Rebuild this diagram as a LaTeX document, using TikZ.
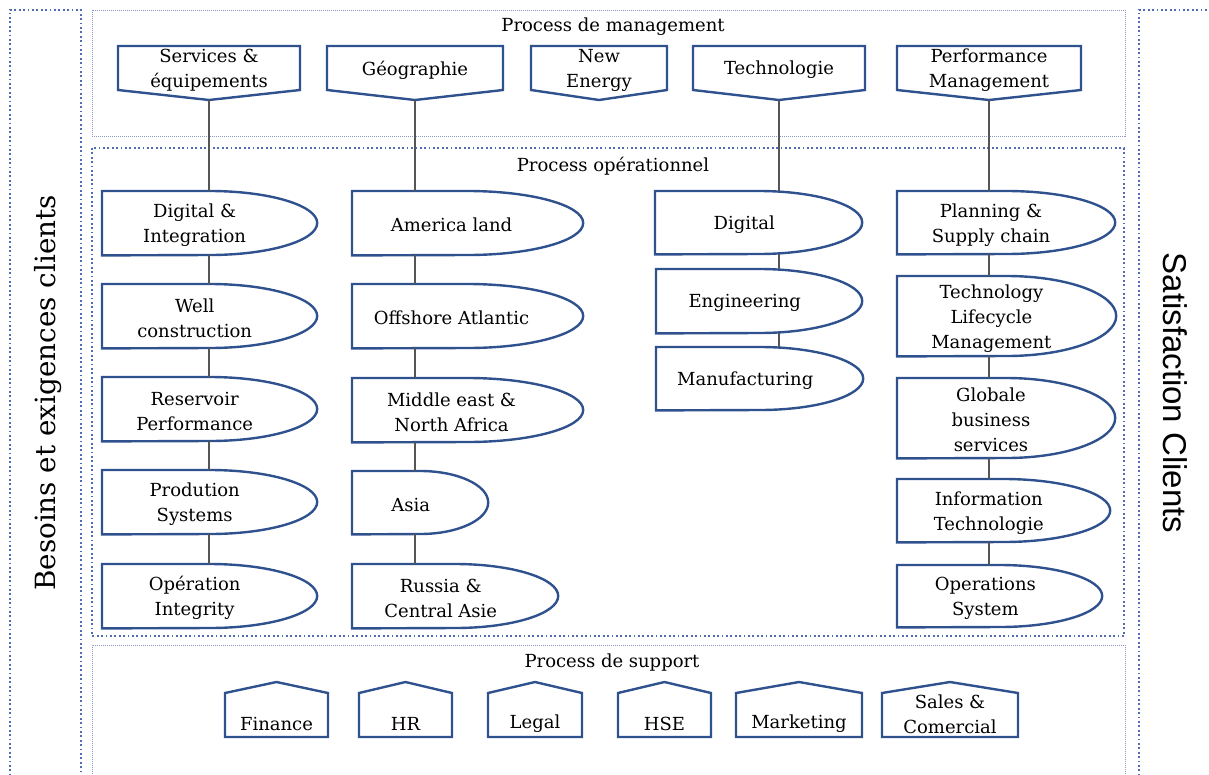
\documentclass[tikz,border=0pt]{standalone}
\usepackage{fontspec}
\setmainfont{DejaVu Serif}
\newfontfamily\labelsans{Liberation Sans}

\definecolor{nodeblue}{RGB}{47,82,143}
\definecolor{dotblue}{RGB}{80,108,182}
\definecolor{thinblue}{RGB}{140,152,190}
\definecolor{linkgray}{RGB}{85,85,85}

\tikzset{
  boxtext/.style={font=\fontsize{18}{25}\selectfont, align=center, inner sep=0pt},
  shapeline/.style={draw=nodeblue, line width=2.4pt, line join=miter},
  link/.style={draw=linkgray, line width=1.2pt},
  bigdots/.style={draw=dotblue, line width=2pt, dash pattern=on 1.8pt off 2.6pt},
  finedots/.style={draw=thinblue, line width=0.9pt, dash pattern=on 1pt off 1pt},
  titletext/.style={font=\fontsize{18}{25}\selectfont, inner sep=0pt},
  stepbox/.style={rectangle, inner sep=0pt, anchor=north west},
}

% operational step: flat left side, half-ellipse right side
\newcommand\opnode[6]{% name, left, top, width, height, label
  \node[stepbox, minimum width=#4pt, minimum height=#5pt,
        label={[boxtext, xshift={-0.07*#4}, yshift=-2]center:{#6}}] (#1) at (#2,-#3) {};
  \draw[shapeline] (#1.north west) -- (#1.north)
     arc[start angle=90, end angle=-90, x radius={#4/2}, y radius={#5/2}]
     -- (#1.south west) -- cycle;
}
% management process: pentagon pointing down
\newcommand\mgnode[4]{% name, left, right, label
  \node[boxtext] (#1) at ({(#2+#3)/2},-70) {#4};
  \draw[shapeline] (#2,-46) -- (#3,-46) -- (#3,-90) -- ({(#2+#3)/2},-100) -- (#2,-90) -- cycle;
  \coordinate (#1-tip) at ({(#2+#3)/2},-100);
}
% support process: pentagon pointing up
\newcommand\supnode[5]{% name, left, right, text y, label
  \node[boxtext] (#1) at ({(#2+#3)/2},-#4) {#5};
  \draw[shapeline] (#2,-737) -- (#2,-693) -- ({(#2+#3)/2},-682) -- (#3,-693) -- (#3,-737) -- cycle;
}

\begin{document}
\begin{tikzpicture}[x=1pt,y=1pt]
\useasboundingbox (0,0) rectangle (1209,-774);
\clip (0,0) rectangle (1209,-774);

% side bands
\draw[bigdots] (10,-780) -- (10,-10) -- (81,-10) -- (81,-780);
\draw[bigdots] (1139,-780) -- (1139,-10) -- (1215,-10);
\node[rotate=90, font=\fontsize{27.8}{34}\selectfont, inner sep=0pt] (needs) at (48,-393) {Besoins et exigences clients};
\node[rotate=-90, font=\labelsans\fontsize{33}{40}\selectfont, inner sep=0pt] (satisfaction) at (1175,-393) {Satisfaction Clients};

% process areas
\draw[finedots] (92,-10) rectangle (1125,-136);
\draw[bigdots] (92,-148) rectangle (1124,-636);
\draw[finedots] (92,-780) -- (92,-645) -- (1125,-645) -- (1125,-780);
\node[titletext] (mgtitle) at (613,-27) {Process de management};
\node[titletext] (optitle) at (613,-166) {Process opérationnel};
\node[titletext] (suptitle) at (612,-663) {Process de support};

% management processes
\mgnode{m1}{118}{300}{Services \&\\équipements}
\mgnode{m2}{327}{503}{Géographie}
\mgnode{m3}{531}{667}{New\\Energy}
\mgnode{m4}{693}{865}{Technologie}
\mgnode{m5}{897}{1081}{Performance\\Management}

% operational processes
\opnode{d1}{102}{191}{215}{64}{Digital \&\\Integration}
\opnode{d2}{102}{284}{215}{64}{Well\\construction}
\opnode{d3}{102}{377}{215}{64}{Reservoir\\Performance}
\opnode{d4}{102}{470}{215}{64}{Prodution\\Systems}
\opnode{d5}{102}{564}{215}{64}{Opération\\Integrity}

\opnode{g1}{352}{191}{231}{64}{America land}
\opnode{g2}{352}{284}{231}{64}{Offshore Atlantic}
\opnode{g3}{352}{378}{231}{64}{Middle east \&\\North Africa}
\opnode{g4}{352}{471}{136}{63}{Asia}
\opnode{g5}{352}{564}{206}{64}{Russia \&\\Central Asie}

\opnode{t1}{655}{191}{207}{63}{Digital}
\opnode{t2}{656}{269}{206}{64}{Engineering}
\opnode{t3}{656}{347}{207}{63}{Manufacturing}

\opnode{p1}{897}{191}{218}{63}{Planning \&\\Supply chain}
\opnode{p2}{897}{276}{219}{80}{Technology\\Lifecycle\\Management}
\opnode{p3}{897}{378}{218}{80}{Globale\\business\\services}
\opnode{p4}{897}{479}{213}{63}{Information\\Technologie}
\opnode{p5}{897}{565}{205}{62}{Operations\\System}

% connectors
\draw[link] (m1-tip) -- (m1-tip |- d1.north);
\foreach \a/\b in {d1/d2,d2/d3,d3/d4,d4/d5}
  \draw[link] (m1-tip |- \a.south) -- (m1-tip |- \b.north);
\draw[link] (m2-tip) -- (m2-tip |- g1.north);
\foreach \a/\b in {g1/g2,g2/g3,g3/g4,g4/g5}
  \draw[link] (m2-tip |- \a.south) -- (m2-tip |- \b.north);
\draw[link] (m4-tip) -- (m4-tip |- t1.north);
\foreach \a/\b in {t1/t2,t2/t3}
  \draw[link] (m4-tip |- \a.south) -- (m4-tip |- \b.north);
\draw[link] (m5-tip) -- (m5-tip |- p1.north);
\foreach \a/\b in {p1/p2,p2/p3,p3/p4,p4/p5}
  \draw[link] (m5-tip |- \a.south) -- (m5-tip |- \b.north);

% support processes
\supnode{s1}{225}{328}{724}{Finance}
\supnode{s2}{359}{452}{724}{HR}
\supnode{s3}{488}{582}{724}{Legal}
\supnode{s4}{618}{711}{724}{HSE}
\supnode{s5}{736}{862}{724}{Marketing}
\supnode{s6}{882}{1018}{714}{Sales \&\\Comercial}
\end{tikzpicture}
\end{document}
